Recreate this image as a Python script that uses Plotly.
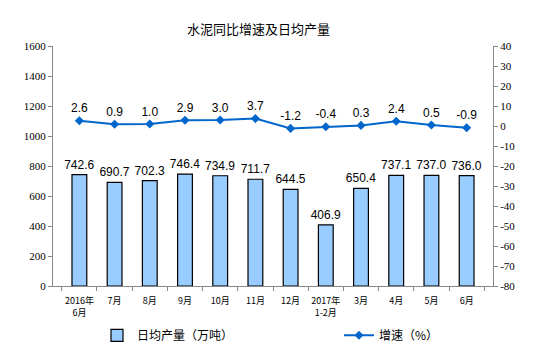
import plotly.graph_objects as go

categories = ["2016年<br>6月", "7月", "8月", "9月", "10月", "11月", "12月",
              "2017年<br>1-2月", "3月", "4月", "5月", "6月"]
output_vals = [742.6, 690.7, 702.3, 746.4, 734.9, 711.7, 644.5, 406.9, 650.4, 737.1, 737.0, 736.0]
growth_vals = [2.6, 0.9, 1.0, 2.9, 3.0, 3.7, -1.2, -0.4, 0.3, 2.4, 0.5, -0.9]
left_ticks = list(range(0, 1601, 200))
right_ticks = list(range(-80, 41, 10))

label_font = dict(family="Liberation Sans, Arial", size=12, color="#000")
tick_font = dict(family="Liberation Serif, Times New Roman", size=11, color="#000")

fig = go.Figure()
fig.add_trace(go.Bar(
    x=categories, y=output_vals, name="日均产量（万吨）",
    marker=dict(color="#99CCFF", line=dict(color="#000", width=1.2)),
    width=0.42,
    text=[f"{v:.1f}" for v in output_vals], textposition="outside",
    constraintext="none",
    textfont=label_font, cliponaxis=False, legend="legend",
))
fig.add_trace(go.Scatter(
    x=categories, y=growth_vals, name="增速（%）", yaxis="y2",
    mode="lines+markers+text",
    line=dict(color="#0066CC", width=2),
    marker=dict(symbol="diamond", size=7, color="#0066CC"),
    text=[f"{v:.1f}" for v in growth_vals], textposition="top center",
    textfont=label_font, cliponaxis=False, legend="legend2",
))

fig.update_layout(
    width=550, height=350,
    margin=dict(l=53, r=57, t=46, b=64, autoexpand=False),
    paper_bgcolor="white", plot_bgcolor="white",
    title=dict(text="水泥同比增速及日均产量", x=0.47, xanchor="center", y=0.915, yanchor="middle",
               font=dict(family="Noto Sans CJK SC", size=13, color="#000")),
    showlegend=True,
    xaxis=dict(
        showline=True, linecolor="#888", linewidth=1,
        ticks="outside", tickson="boundaries", ticklen=4, tickcolor="#888",
        tickangle=0, automargin=False, ticklabelstandoff=6,
        tickfont=dict(family="Noto Sans CJK SC", size=9, color="#000"),
        showgrid=False,
    ),
    yaxis=dict(
        range=[0, 1600], tickvals=left_ticks, showline=True, linecolor="#888",
        ticks="outside", ticklen=4, tickcolor="#888", showgrid=False, zeroline=False,
        tickfont=tick_font, automargin=False,
    ),
    yaxis2=dict(
        range=[-80, 40], tickvals=right_ticks, ticktext=[str(t) for t in right_ticks],
        overlaying="y", side="right",
        showline=True, linecolor="#888", ticks="outside", ticklen=4, tickcolor="#888",
        showgrid=False, zeroline=False, tickfont=tick_font, automargin=False,
    ),
    legend=dict(x=0.1, y=-0.145, xanchor="left", yanchor="top", orientation="h",
                font=dict(family="Noto Sans CJK SC", size=12, color="#000"),
                bgcolor="rgba(0,0,0,0)"),
    legend2=dict(x=0.65, y=-0.145, xanchor="left", yanchor="top", orientation="h",
                 font=dict(family="Noto Sans CJK SC", size=12, color="#000"),
                 bgcolor="rgba(0,0,0,0)"),
)

fig.write_html("out.html")
